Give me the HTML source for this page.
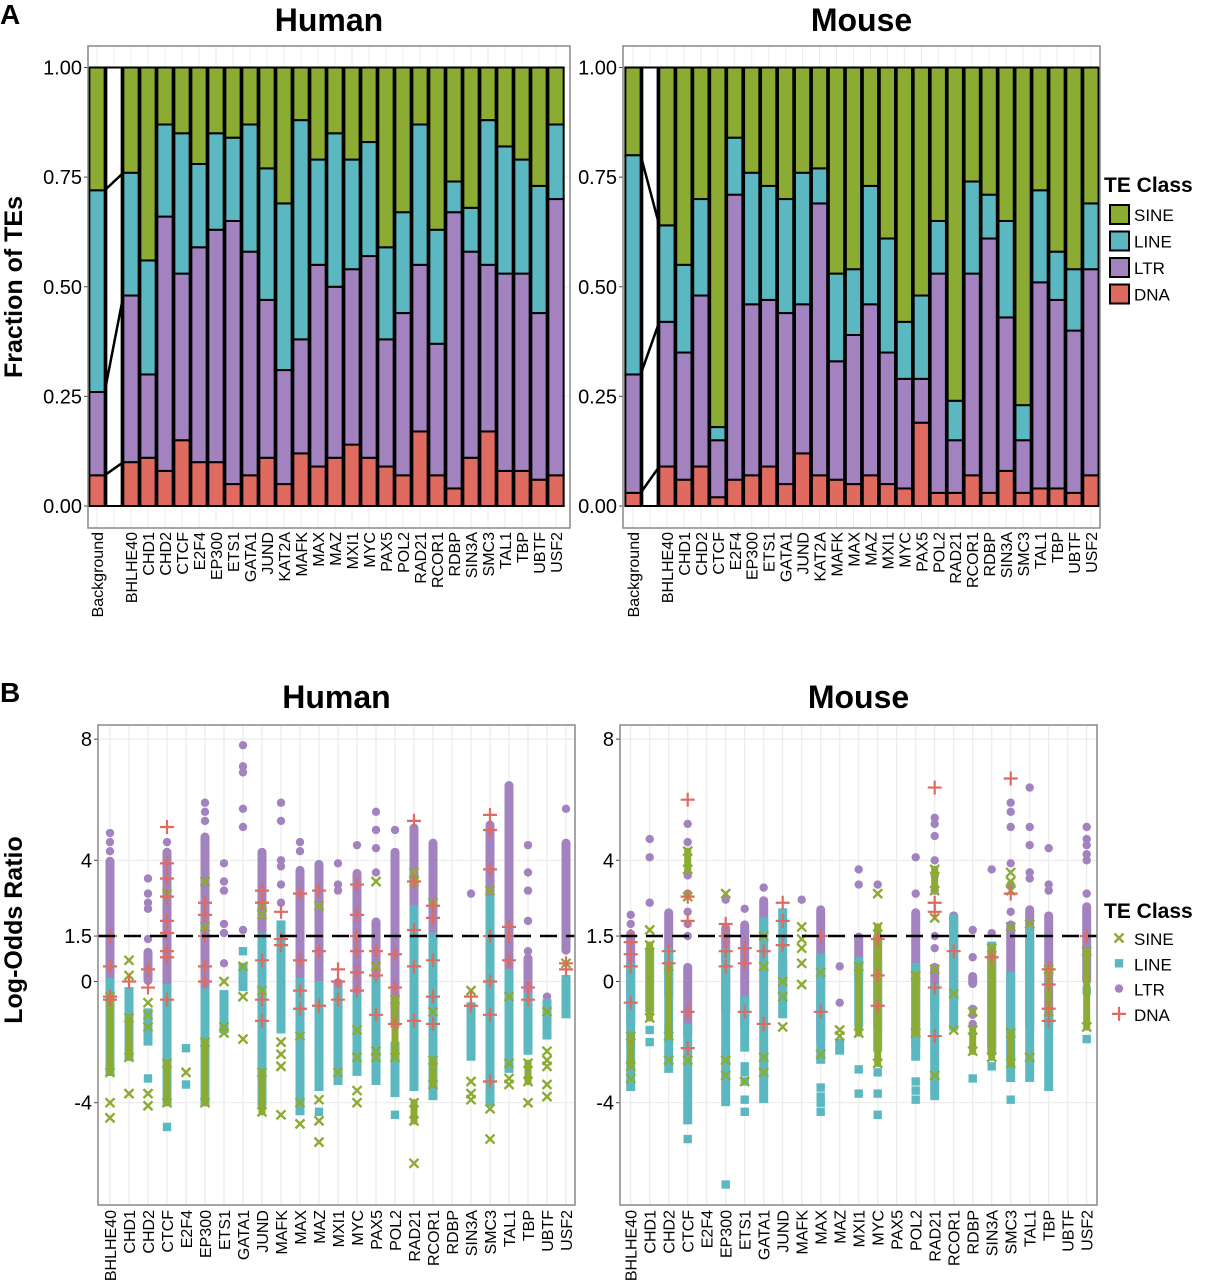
<!DOCTYPE html>
<html><head><meta charset="utf-8"><style>
body{margin:0;background:#fff}
svg{display:block;font-family:"Liberation Sans",Arial,sans-serif}
</style></head><body>
<svg id="fig" width="1206" height="1280" viewBox="0 0 1206 1280" xmlns="http://www.w3.org/2000/svg">
<rect width="1206" height="1280" fill="#fff"/>
</svg>
<script>
// ---------- Panel A data ----------
const tfA = ["BHLHE40","CHD1","CHD2","CTCF","E2F4","EP300","ETS1","GATA1","JUND","KAT2A","MAFK","MAX","MAZ","MXI1","MYC","PAX5","POL2","RAD21","RCOR1","RDBP","SIN3A","SMC3","TAL1","TBP","UBTF","USF2"];
const humanBgA = [0.07,0.26,0.72];
const humanDnaTop = [0.10,0.11,0.08,0.15,0.10,0.10,0.05,0.07,0.11,0.05,0.12,0.09,0.11,0.14,0.11,0.09,0.07,0.17,0.07,0.04,0.11,0.17,0.08,0.08,0.06,0.07];
const humanLtrTop = [0.48,0.30,0.66,0.53,0.59,0.63,0.65,0.58,0.47,0.31,0.38,0.55,0.50,0.54,0.57,0.38,0.44,0.55,0.37,0.67,0.58,0.55,0.53,0.53,0.44,0.70];
const humanLineTop = [0.76,0.56,0.87,0.85,0.78,0.85,0.84,0.87,0.77,0.69,0.88,0.79,0.85,0.79,0.83,0.59,0.67,0.87,0.63,0.74,0.68,0.88,0.82,0.79,0.73,0.87];
const mouseBgA = [0.03,0.30,0.80];
const mouseDnaTop = [0.09,0.06,0.09,0.02,0.06,0.07,0.09,0.05,0.12,0.07,0.06,0.05,0.07,0.05,0.04,0.19,0.03,0.03,0.07,0.03,0.08,0.03,0.04,0.04,0.03,0.07];
const mouseLtrTop = [0.42,0.35,0.48,0.15,0.71,0.46,0.47,0.44,0.46,0.69,0.33,0.39,0.46,0.35,0.29,0.29,0.53,0.15,0.53,0.61,0.43,0.15,0.51,0.47,0.40,0.54];
const mouseLineTop = [0.64,0.55,0.70,0.18,0.84,0.76,0.73,0.70,0.76,0.77,0.53,0.54,0.73,0.61,0.42,0.48,0.65,0.24,0.74,0.71,0.65,0.23,0.72,0.58,0.54,0.69];
const yTicksA = [0,0.25,0.5,0.75,1];
const yTickLabelsA = ["0.00","0.25","0.50","0.75","1.00"];

// ---------- Panel B data ----------
const tfB = ["BHLHE40","CHD1","CHD2","CTCF","E2F4","EP300","ETS1","GATA1","JUND","MAFK","MAX","MAZ","MXI1","MYC","PAX5","POL2","RAD21","RCOR1","RDBP","SIN3A","SMC3","TAL1","TBP","UBTF","USF2"];
const yTicksB = [8,4,1.5,0,-4];
const yTickLabelsB = ["8","4","1.5","0","-4"];
const hLtrRange = [[-1.5,4.0],null,[0,1.0],[-0.5,4.3],null,[-1.5,4.8],null,null,[-1,4.3],[-0.5,1.5],[-1,3.7],[-1.5,3.9],[-1.5,0],[-0.6,3.6],[-0.5,2.0],[-1.5,4.3],[-0.5,5.1],[0,4.6],null,null,[-0.5,5.2],[-0.5,6.5],[-2,0.8],null,[1.0,4.6]];
const hLtrPts = [[4.3,4.6,4.9,3.3,2.6,2.1],[],[3.4,2.9,2.6,2.4,1.4],[4.6],[],[5.9,5.6,5.3],[3.9,3.3,3.0,1.9,1.6,0.6],[7.8,7.1,6.9,5.7,5.1,1.7],[],[5.9,5.3,4.0,3.8,3.2,2.6],[4.6,4.3],[],[3.9,3.2,3.0],[4.5],[5.6,5.0,4.4,3.6],[5.0],[],[],[],[2.9,-1.3],[],[],[4.5,3.6,3.0,2.0,1.0],[-0.5,-1.0],[5.7]];
const hLineRange = [[-3,0],[-2.5,-0.3],[-2,-1],[-4,-0.2],null,[-4,-0.3],[-1.6,-0.4],[-0.2,0.5],[-4,1.5],[-1.6,1.9],[-4.3,0],[-3.5,-0.1],[-3.3,-0.3],[-3,-0.5],[-3.3,0],[-3.7,-2.1],[-3.5,2.4],[-3.8,1.5],null,[-2.5,-0.8],[-4,2.7],[-2.9,0.3],[-2.3,-0.5],[-1.8,-0.7],[-1.1,0.1]];
const hLinePts = [[],[],[-3.2],[-4.8],[-2.2,-3.4],[],[],[1.0],[],[],[],[-4.3],[],[],[],[-4.4],[],[],[],[],[],[],[],[],[]];
const hSineRange = [[-3,-0.5],[-2.5,-1.2],null,[-4,-2.7],null,[-4,-2],null,null,[-4.3,-3],null,null,null,null,null,null,[-2.5,-0.6],[-4.6,-4.0],[-3.4,-2.6],null,null,null,null,[-3.3,-2.7],null,null];
const hSinePts = [[-4.0,-4.5],[0.7,0.2,-3.7],[-0.7,-1.1,-1.5,-3.7,-4.1],[2.9],[-3.0],[3.3,1.8],[0.0,-1.5,-1.7],[0.5,-0.5,-1.9],[2.5,2.2,-0.3],[-2.0,-2.4,-2.8,-4.4],[-1.8,-4.0,-4.7],[2.5,-3.9,-4.6,-5.3],[-3.0],[-1.6,-2.5,-3.6,-4.0],[3.3,0.5,-2.3,-2.5],[],[3.6,3.3,-6.0],[2.6,-1.0],[],[-0.3,-3.3,-3.7,-3.9],[3.0,-4.2,-5.2],[-0.5,-2.7,-3.2,-3.4],[-4.0],[-1.0,-2.3,-2.6,-2.8,-3.4,-3.8],[0.6]];
const hDnaPts = [[1.5,0.5,-0.5,-0.6],[0],[0.4,-0.2],[5.1,3.9,3.4,2.8,2.0,1.6,1.0,0.8,-0.6],[],[2.6,2.2,1.5,0.5,0.0],[],[],[3.0,2.6,0.7,-0.6,-1.3],[2.3,1.4,1.2],[2.9,0.7,-0.3,-0.9],[3.0,1.0,-0.8],[0.4,0.0,-0.6],[3.2,2.2,1.5,1.0,0.3,-0.3],[1.0,0.2,-1.1],[0.9,-0.2,-1.4],[5.3,3.3,1.7,0.5,-1.3],[2.5,2.1,0.7,-0.5,-1.4],[],[-0.5,-0.8],[5.5,5.0,3.7,1.5,0.0,-1.1,-3.3],[1.8,1.5,0.7],[-0.2,-0.6],[],[0.4,0.6]];
const mLtrRange = [[-1.5,1.6],null,[-0.5,2.3],[-1.8,0.5],null,[-1.0,1.8],[-1.5,1.9],[1.5,2.7],[-0.5,0.7],null,[-2.0,2.4],null,[0,1.5],[-1.5,1.5],null,[-2.2,2.3],[-1,0.5],[-0.5,2.2],[-0.1,0.2],[-2.2,0.8],[-2.6,1.9],[-1.5,2.4],[-1.5,2.2],null,[0,2.5]];
const mLtrPts = [[2.2,1.9],[4.7,4.1,2.6],[],[5.2,4.6,3.5,2.9,2.3,1.9,1.5],[],[2.7],[2.4],[3.1],[],[2.7],[],[0.5,-0.7],[3.7,3.2],[3.2],[],[4.1,2.9],[5.4,5.2,4.8,4.0,3.5,3.0,1.5,1.1],[],[1.7,0.8,-0.9,-1.1,-1.4],[3.7,1.6],[5.9,5.6,5.1,3.9,3.2,2.3],[6.4,5.1,4.5,3.6,3.4],[4.4,3.2,3.0],[],[5.1,4.7,4.5,4.2,4.0,2.9]];
const mLineRange = [[-3.5,0.5],[-0.9,1.0],[-2.9,1.0],[-4.6,-1.5],null,[-4.0,1.0],[-2.2,-0.6],[-3.9,2.0],[-1.1,2.3],null,[-2.6,0.8],[-2.3,-2.0],[-1.4,0.7],[-2.2,0.6],null,[-2.5,0.5],[-3.8,-0.2],[-1.5,2.1],null,[-2.3,1.2],[-3.2,0.2],[-3.2,1.7],[-3.5,-1.2],null,null];
const mLinePts = [[],[-1.6,-2.0],[],[-5.2],[],[-6.7],[-2.8,-3.0,-3.3,-3.9,-4.3],[],[],[],[-3.5,-3.8,-4.0,-4.3],[],[-2.9,-3.7],[-3.0,-3.7,-4.4],[],[-3.3,-3.6,-3.9],[],[],[-3.2],[-2.8],[-3.9],[],[],[],[-0.3,-1.9]];
const mSineRange = [[-2.8,-1.8],[-1.2,1.2],[-1.8,0.5],[3.7,4.3],null,null,null,null,null,null,null,null,[-1.7,0.5],[-2.7,1.8],null,[-1.7,0.2],[3.0,3.7],null,[-2.3,-1.6],[-2.5,1.1],[-2.7,-1.7],null,[-1.0,0.4],null,[-1.5,1.0]];
const mSinePts = [[-3.2],[1.7],[-2.6],[2.8,-2.6],[],[2.9,-2.6,-3.1],[-3.3],[1.5,0.5,-2.5,-3.0],[0.0,-0.5,-1.5],[1.8,1.4,1.1,0.6,-0.1],[0.3,-2.4],[-1.6,-1.8],[],[2.9],[],[],[2.1,0.4,-3.1],[-0.4,-1.6],[-1.0],[],[3.6,3.3,3.0,1.8],[1.9,-2.5],[],[],[]];
const mDnaPts = [[1.5,1.3,0.9,0.5,-0.7],[],[1.0,0.6],[6.0,2.8,2.0,-1.0,-2.2],[],[1.9,1.5,1.0,0.5],[1.1,0.6,-1.0],[1.0,-1.4],[2.6,2.0,1.2],[],[1.5,-1.0],[],[],[1.4,0.2,-0.8],[],[],[6.4,2.6,2.3,-0.2,-1.8],[1.0],[],[0.8],[6.7,2.9],[],[0.4,-0.1,-0.9,-1.3],[],[1.5]];

const C = {SINE:"#8cab33",LINE:"#5bb8c1",LTR:"#a283bf",DNA:"#df6a60"};
const NS = "http://www.w3.org/2000/svg";
const svg = document.getElementById("fig");
function mk(tag, attrs, parent, txt){
  const e = document.createElementNS(NS, tag);
  for (const k in attrs) e.setAttribute(k, attrs[k]);
  if (txt !== undefined) e.textContent = txt;
  (parent || svg).appendChild(e);
  return e;
}
function grp(name, parent){
  const g = mk("g", {}, parent);
  
  
  return g;
}

// ---------- headers ----------
let t;
t = mk("text",{x:0,y:24,"font-size":28,"font-weight":"bold"},svg,"A");


t = mk("text",{x:0,y:702,"font-size":28,"font-weight":"bold"},svg,"B");


t = mk("text",{x:0,y:0,"font-size":25,"font-weight":"bold","text-anchor":"middle",transform:"translate(22,287) rotate(-90)"},svg,"Fraction of TEs");


t = mk("text",{x:0,y:0,"font-size":25,"font-weight":"bold","text-anchor":"middle",transform:"translate(22,930) rotate(-90)"},svg,"Log-Odds Ratio");



// ---------- Panel A ----------
function panelA(name, title, L, R, x0, dx, bg, dna, ltr, line){
  const g = grp(name);
  const T = 46, B = 528;
  const y = v => 506 - 438.5*v;
  const xs = i => x0 + dx*i;
  const tt = mk("text",{x:(L+R)/2,y:31,"font-size":32,"font-weight":"bold","text-anchor":"middle"},g,title);
  
  
  mk("rect",{x:L,y:T,width:R-L,height:B-T,fill:"#fff"},g);
  for (let i=0;i<28;i++) mk("line",{x1:xs(i),x2:xs(i),y1:T,y2:B,stroke:"#ebebeb","stroke-width":1},g);
  yTicksA.forEach((v,k)=>{
    mk("line",{x1:L,x2:R,y1:y(v),y2:y(v),stroke:"#ebebeb","stroke-width":1},g);
    mk("line",{x1:L-4,x2:L,y1:y(v),y2:y(v),stroke:"#444","stroke-width":1},g);
    const lb = mk("text",{x:L-6,y:y(v)+7,"font-size":20,"text-anchor":"end"},g,yTickLabelsA[k]);
    
    
  });
  const w = dx*0.9;
  function stack(i, a, b, c, label){
    const cols = [[0,a,C.DNA],[a,b,C.LTR],[b,c,C.LINE],[c,1,C.SINE]];
    cols.forEach(s=>{
      const r = mk("rect",{x:xs(i)-w/2,y:y(s[1]),width:w,height:y(s[0])-y(s[1]),fill:s[2],stroke:"#000","stroke-width":2},g);
      
      
    });
  }
  stack(0, bg[0], bg[1], bg[2], "Background");
  const blank = mk("rect",{x:xs(1)-w/2,y:y(1),width:w,height:y(0)-y(1),fill:"#fff",stroke:"#000","stroke-width":2},g);
  
  
  tfA.forEach((n,j)=>stack(j+2, dna[j], ltr[j], line[j], n));
  [[0,bg[0],dna[0]],[1,bg[1],ltr[0]],[2,bg[2],line[0]]].forEach(c=>{
    const ln = mk("line",{x1:xs(0)+w/2,y1:y(c[1]),x2:xs(2)-w/2,y2:y(c[2]),stroke:"#000","stroke-width":2.5},g);
    
    
  });
  mk("rect",{x:L,y:T,width:R-L,height:B-T,fill:"none",stroke:"#888","stroke-width":1.5},g);
  const labels = ["Background",""].concat(tfA);
  labels.forEach((n,i)=>{
    if(!n) return;
    const lb = mk("text",{x:0,y:0,"font-size":16,"text-anchor":"end",transform:`translate(${xs(i)+6},${B+4}) rotate(-90)`},g,n);
    
    
  });
}
panelA("human-bar-panel","Human",88,570,97,17.0,humanBgA,humanDnaTop,humanLtrTop,humanLineTop);
panelA("mouse-bar-panel","Mouse",623,1100,633,16.96,mouseBgA,mouseDnaTop,mouseLtrTop,mouseLineTop);

// legend A
const legA = grp("legend-a");
t = mk("text",{x:1104,y:192,"font-size":21,"font-weight":"bold"},legA,"TE Class");


["SINE","LINE","LTR","DNA"].forEach((c,k)=>{
  const yy = 205 + k*26.5;
  const sq = mk("rect",{x:1110,y:yy,width:19,height:19,fill:C[c],stroke:"#000","stroke-width":2},legA);
  
  
  const lt = mk("text",{x:1134,y:yy+16,"font-size":17},legA,c);
  
  
});

// ---------- Panel B ----------
function marker(cls, x, yy, g){
  let e;
  if (cls==="LTR") e = mk("circle",{cx:x,cy:yy,r:4.2,fill:C.LTR},g);
  else if (cls==="LINE") e = mk("rect",{x:x-4.2,y:yy-4.2,width:8.4,height:8.4,fill:C.LINE},g);
  else if (cls==="SINE") e = mk("path",{d:`M${x-4.5},${yy-4.5}L${x+4.5},${yy+4.5}M${x-4.5},${yy+4.5}L${x+4.5},${yy-4.5}`,stroke:C.SINE,"stroke-width":2.4,fill:"none"},g);
  else e = mk("path",{d:`M${x-7},${yy}H${x+7}M${x},${yy-7}V${yy+7}`,stroke:C.DNA,"stroke-width":2.2,fill:"none"},g);
  
  
}
function panelB(name, title, L, R, x0, sets){
  const g = grp(name);
  const T = 725, B = 1205;
  const y = v => 981.5 - 30.3*v;
  const xs = i => x0 + 19*i;
  const tt = mk("text",{x:(L+R)/2,y:708,"font-size":32,"font-weight":"bold","text-anchor":"middle"},g,title);
  
  
  for (let i=0;i<25;i++) mk("line",{x1:xs(i),x2:xs(i),y1:T,y2:B,stroke:"#ebebeb","stroke-width":1.2},g);
  yTicksB.forEach((v,k)=>{
    if (v!==1.5) mk("line",{x1:L,x2:R,y1:y(v),y2:y(v),stroke:"#ebebeb","stroke-width":1.2},g);
    mk("line",{x1:L-4,x2:L,y1:y(v),y2:y(v),stroke:"#444","stroke-width":1},g);
    const lb = mk("text",{x:L-6,y:y(v)+7,"font-size":20,"text-anchor":"end"},g,yTickLabelsB[k]);
    
    
  });
  const order = [["LTR",sets.ltrR,sets.ltrP,9],["LINE",sets.lineR,sets.lineP,9],["SINE",sets.sineR,sets.sineP,7],["DNA",null,sets.dnaP,0]];
  order.forEach(o=>{
    const cls=o[0];
    tfB.forEach((n,i)=>{
      if (o[1] && o[1][i]){
        const r = o[1][i];
        const col = mk("rect",{x:xs(i)-o[3]/2,y:y(r[1])-3.5,width:o[3],height:y(r[0])-y(r[1])+7,rx:cls==="LTR"?4.5:0,fill:C[cls]},g);
        
        
        if (cls==="SINE") { marker("SINE", xs(i), y(r[0]), g); marker("SINE", xs(i), y(r[1]), g); }
      }
      o[2][i].forEach(v=>marker(cls, xs(i), y(v), g));
    });
  });
  const dl = mk("line",{x1:L,x2:R,y1:y(1.5),y2:y(1.5),stroke:"#000","stroke-width":2.5,"stroke-dasharray":"17,9"},g);
  
  
  mk("rect",{x:L,y:T,width:R-L,height:B-T,fill:"none",stroke:"#888","stroke-width":1.5},g);
  tfB.forEach((n,i)=>{
    const lb = mk("text",{x:0,y:0,"font-size":16,"text-anchor":"end",transform:`translate(${xs(i)+6},${B+5}) rotate(-90)`},g,n);
    
    
  });
}
panelB("human-scatter-panel","Human",98,575,110,{ltrR:hLtrRange,ltrP:hLtrPts,lineR:hLineRange,lineP:hLinePts,sineR:hSineRange,sineP:hSinePts,dnaP:hDnaPts});
panelB("mouse-scatter-panel","Mouse",620,1097,630.7,{ltrR:mLtrRange,ltrP:mLtrPts,lineR:mLineRange,lineP:mLinePts,sineR:mSineRange,sineP:mSinePts,dnaP:mDnaPts});

// legend B
const legB = grp("legend-b");
t = mk("text",{x:1104,y:918,"font-size":21,"font-weight":"bold"},legB,"TE Class");


["SINE","LINE","LTR","DNA"].forEach((c,k)=>{
  const yy = 938 + k*25.3;
  marker(c, 1119, yy, legB);
  const lt = mk("text",{x:1134,y:yy+7,"font-size":17},legB,c);
  
  
});
</script>
</body></html>
